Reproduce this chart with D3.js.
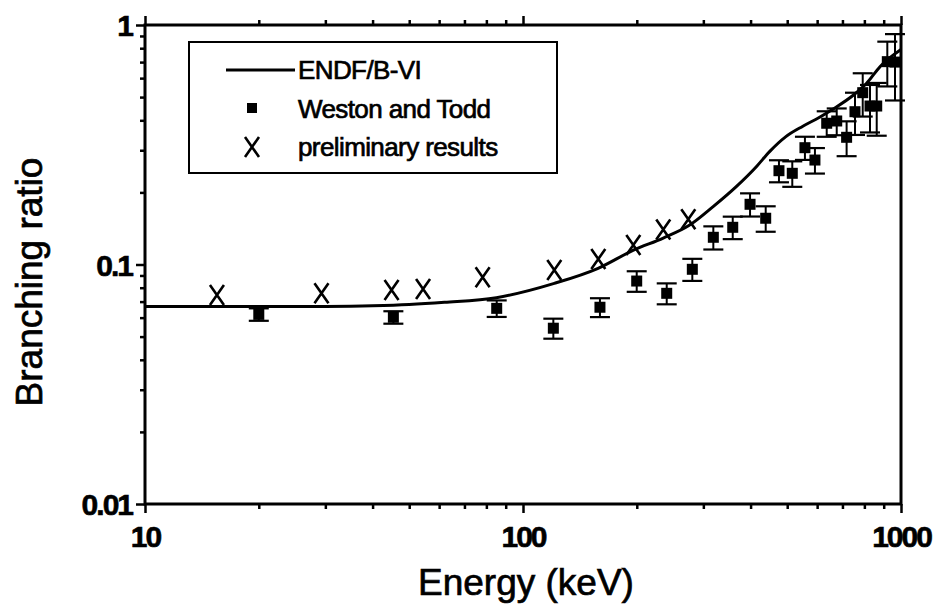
<!DOCTYPE html>
<html>
<head>
<meta charset="utf-8">
<script src="https://cdn.jsdelivr.net/npm/d3@7"></script>
<style>
  html, body { margin: 0; padding: 0; background: #fff; }
  svg { display: block; font-family: "Liberation Sans", Arial, sans-serif; }
  .tick text { font-weight: bold; font-size: 30px; letter-spacing: -2px; fill: #000; stroke: #000; stroke-width: 0.6px; }
  .axis path, .axis line { stroke: #000; }
  .label { stroke: #000; stroke-width: 0.7px; }
</style>
</head>
<body>
<svg id="chart" width="937" height="612"></svg>
<script>
// ENDF/B-VI evaluation curve
const endfEnergy = [10, 20, 30, 40, 50, 62, 85, 121, 158, 196, 235, 274, 319, 366, 416, 449, 496, 550, 609, 660, 749, 811, 880, 1000];
const endfRatio  = [0.0667, 0.0667, 0.0668, 0.0672, 0.068, 0.0695, 0.0727, 0.0834, 0.0964, 0.1148, 0.129, 0.145, 0.175, 0.211, 0.258, 0.296, 0.342, 0.378, 0.412, 0.445, 0.51, 0.571, 0.67, 0.79];

// Weston and Todd
const westonEnergy = [20, 45.4, 85.2, 120.3, 159.8, 199.9, 240, 280.5, 318.8, 358.8, 398.7, 438.6, 475.5, 515.7, 557, 592, 636, 676, 718, 755.5, 792, 828, 862.5, 920, 964];
const westonRatio  = [0.0619, 0.0602, 0.0656, 0.0542, 0.0663, 0.0853, 0.0758, 0.0955, 0.1299, 0.143, 0.1784, 0.156, 0.2464, 0.2403, 0.3074, 0.273, 0.3888, 0.3974, 0.3397, 0.4345, 0.5217, 0.4589, 0.4589, 0.703, 0.70];
const westonError  = [0.0037, 0.0036, 0.0052, 0.0052, 0.006, 0.0084, 0.0076, 0.0101, 0.0144, 0.0154, 0.0198, 0.019, 0.026, 0.0293, 0.0341, 0.0333, 0.0474, 0.0509, 0.0564, 0.087, 0.107, 0.103, 0.114, 0.149, 0.216];

// preliminary results
const prelimEnergy = [15.5, 29.3, 44.9, 54.4, 78.2, 121, 158.2, 195.8, 235, 273.7];
const prelimRatio  = [0.0746, 0.0758, 0.0782, 0.079, 0.0885, 0.0948, 0.1054, 0.1206, 0.140, 0.1544];

const xTickLabels = [10, 100, 1000];
const yTickLabels = [0.01, 0.1, 1];
const legendLabels = ["ENDF/B-VI", "Weston and Todd", "preliminary results"];

let svg = d3.select("#chart");
let margin = {left: 145, top: 25, right: 36, bottom: 108};
let width = 937 - margin.left - margin.right;
let height = 612 - margin.top - margin.bottom;

let g = svg.append("g").attr("transform", `translate(${margin.left},${margin.top})`);

let x = d3.scaleLog().domain([10, 1000]).range([0, width]);
let y = d3.scaleLog().domain([0.01, 1]).range([height, 0]);

let xMinor = x.ticks().filter(v => !xTickLabels.includes(v));
let yMinor = y.ticks().filter(v => !yTickLabels.includes(v));

// minor ticks
g.append("g").attr("class", "axis").attr("transform", `translate(0,${height})`)
    .call(d3.axisBottom(x).tickValues(xMinor).tickSize(5).tickFormat(""));
g.append("g").attr("class", "axis")
    .call(d3.axisTop(x).tickValues(xMinor).tickSize(5).tickFormat(""));
g.append("g").attr("class", "axis")
    .call(d3.axisLeft(y).tickValues(yMinor).tickSize(5).tickFormat(""));

// major ticks with labels
let xAxis = g.append("g").attr("class", "axis").attr("transform", `translate(0,${height})`)
    .call(d3.axisBottom(x).tickValues(xTickLabels).tickSize(9).tickPadding(5).tickFormat(d3.format("d")));
g.append("g").attr("class", "axis")
    .call(d3.axisTop(x).tickValues(xTickLabels).tickSize(9).tickFormat(""));
let yAxis = g.append("g").attr("class", "axis")
    .call(d3.axisLeft(y).tickValues(yTickLabels).tickSize(9).tickPadding(4).tickFormat(d => String(d)));

g.selectAll(".axis path").remove();
g.selectAll(".axis line").attr("stroke-width", 2.5);
xAxis.selectAll(".tick text").attr("dy", "0.95em");
yAxis.selectAll(".tick text").attr("dy", "0.36em");

// frame
g.append("rect")
    .attr("width", width).attr("height", height)
    .attr("fill", "none").attr("stroke", "#000").attr("stroke-width", 3);

// ENDF curve
let line = d3.line()
    .curve(d3.curveMonotoneX)
    .x((d, i) => x(endfEnergy[i]))
    .y((d, i) => y(endfRatio[i]));
g.append("path")
    .datum(endfEnergy)
    .attr("fill", "none").attr("stroke", "#000").attr("stroke-width", 3)
    .attr("d", line);

// Weston and Todd with error bars
let wt = g.append("g");
westonEnergy.forEach(function (e, i) {
    let cx = x(e);
    let lo = y(westonRatio[i] - westonError[i]);
    let hi = y(westonRatio[i] + westonError[i]);
    wt.append("line").attr("x1", cx).attr("x2", cx).attr("y1", lo).attr("y2", hi)
        .attr("stroke", "#000").attr("stroke-width", 2);
    [lo, hi].forEach(function (yy) {
        wt.append("line").attr("x1", cx - 10).attr("x2", cx + 10).attr("y1", yy).attr("y2", yy)
            .attr("stroke", "#000").attr("stroke-width", 2.2);
    });
    wt.append("rect").attr("x", cx - 5.5).attr("y", y(westonRatio[i]) - 5.5)
        .attr("width", 11).attr("height", 11).attr("fill", "#000");
});

// preliminary crosses
function cross(sel, cx, cy) {
    sel.append("path")
        .attr("d", `M${cx - 7},${cy - 10}L${cx + 7},${cy + 10}M${cx + 7},${cy - 10}L${cx - 7},${cy + 10}`)
        .attr("stroke", "#000").attr("stroke-width", 2.6).attr("fill", "none");
}
let pr = g.append("g");
prelimEnergy.forEach(function (e, i) {
    cross(pr, x(e), y(prelimRatio[i]));
});

// legend
let lg = svg.append("g");
lg.append("rect").attr("x", 189).attr("y", 42).attr("width", 368).attr("height", 131)
    .attr("fill", "#fff").attr("stroke", "#000").attr("stroke-width", 2);
lg.append("line").attr("x1", 226).attr("x2", 295).attr("y1", 70).attr("y2", 70)
    .attr("stroke", "#000").attr("stroke-width", 3);
lg.append("rect").attr("x", 247).attr("y", 103).attr("width", 10).attr("height", 10).attr("fill", "#000");
cross(lg, 252, 147);
legendLabels.forEach(function (t, i) {
    lg.append("text").attr("class", "label").attr("x", 298).attr("y", 79 + i * 38.5)
        .attr("font-size", 26).attr("letter-spacing", -0.6).text(t);
});

// axis titles
svg.append("text").attr("class", "label")
    .attr("x", margin.left + width / 2 + 3).attr("y", 595)
    .attr("text-anchor", "middle").attr("font-size", 37)
    .text("Energy (keV)");
svg.append("text").attr("class", "label")
    .attr("transform", "translate(42,282) rotate(-90)")
    .attr("text-anchor", "middle").attr("font-size", 37)
    .text("Branching ratio");
</script>
</body>
</html>
